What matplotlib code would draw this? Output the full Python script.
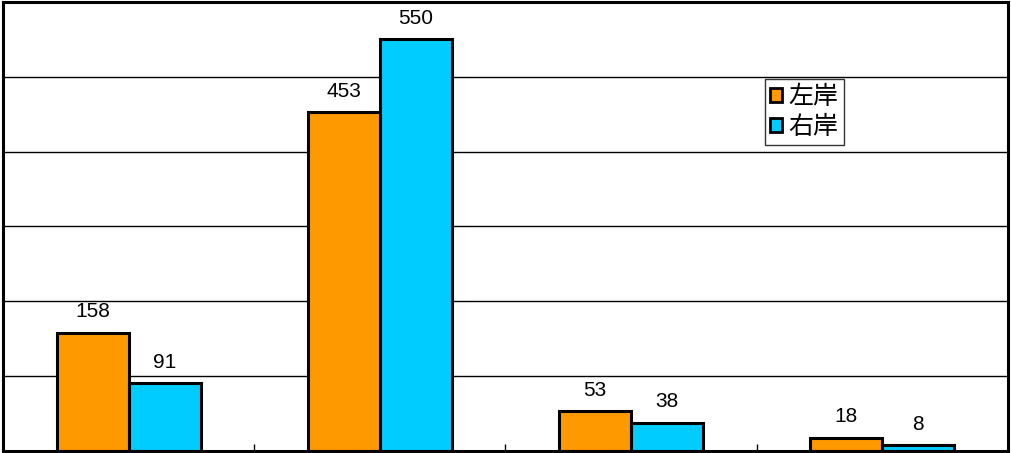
import numpy as np
import matplotlib.pyplot as plt

plt.rcParams['font.family'] = ['Noto Sans CJK JP', 'DejaVu Sans']

categories = ['A', 'B', 'C', 'D']
left_bank = [158, 453, 53, 18]
right_bank = [91, 550, 38, 8]
series_names = ['左岸', '右岸']
colors = ['#FF9900', '#00CCFF']

fig = plt.figure(figsize=(10.12, 4.53), dpi=100)
ax = fig.add_axes([3 / 1012, 2 / 453, 1005 / 1012, 449 / 453])

x = np.arange(len(categories))
w = 0.287
b1 = ax.bar(x - w / 2, left_bank, w, color=colors[0], edgecolor='black',
            linewidth=2.2, label=series_names[0], zorder=3)
b2 = ax.bar(x + w / 2, right_bank, w, color=colors[1], edgecolor='black',
            linewidth=2.2, label=series_names[1], zorder=3)

for bars, vals in [(b1, left_bank), (b2, right_bank)]:
    for r, v in zip(bars, vals):
        ax.annotate(str(v), (r.get_x() + r.get_width() / 2, v),
                    xytext=(0, 11), textcoords='offset points',
                    ha='center', va='baseline', fontsize=15,
                    family='Liberation Sans')

ax.set_xlim(-0.5, len(categories) - 0.5)
ax.set_ylim(0, 600)
ax.set_yticks(np.arange(0, 601, 100))
ax.yaxis.grid(True, color='black', linewidth=1)
ax.tick_params(axis='y', length=0, labelleft=False)
ax.set_xticks(x[:-1] + 0.5)
ax.tick_params(axis='x', direction='in', length=5, width=1, labelbottom=False)
for s in ax.spines.values():
    s.set_linewidth(2.2)
    s.set_zorder(5)

leg = ax.legend(loc='upper left', bbox_to_anchor=(0.758, 0.828), fontsize=18,
                frameon=True, fancybox=False, edgecolor='black',
                handlelength=0.5, handleheight=0.5, handletextpad=0.25,
                borderpad=0.2, labelspacing=0.15, borderaxespad=0)
leg.get_frame().set_linewidth(1)
for h in leg.legend_handles:
    h.set_linewidth(2)

fig.savefig('out.png', dpi=100)
